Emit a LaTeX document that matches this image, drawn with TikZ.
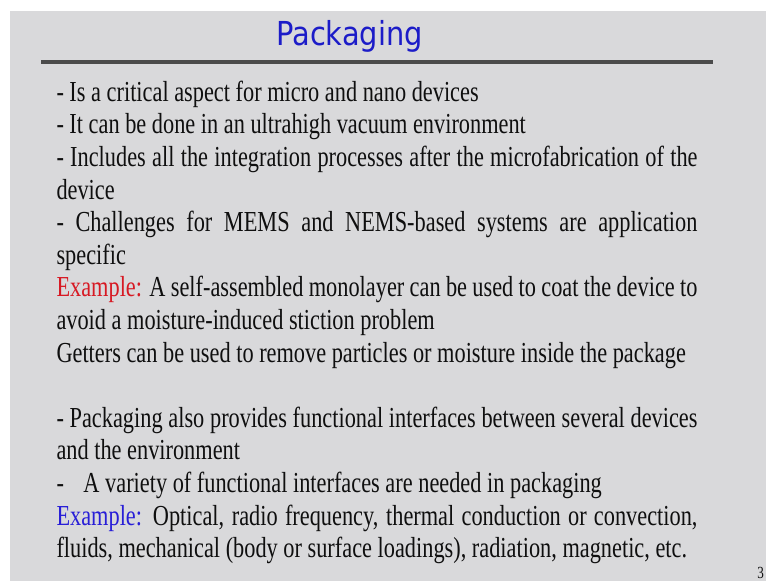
\documentclass[tikz,border=0pt]{standalone}
\usepackage{fontspec}
\setmainfont[FakeStretch=0.77]{Liberation Serif}
\newfontfamily\titlefont[FakeStretch=0.875]{DejaVu Sans}
\definecolor{slidebg}{RGB}{217,217,219}
\definecolor{titleblue}{RGB}{28,28,200}
\definecolor{exred}{RGB}{215,25,35}
\definecolor{exblue}{RGB}{40,30,215}
\definecolor{bodytext}{RGB}{15,15,15}
\definecolor{rulegray}{RGB}{75,75,75}
\tikzset{
  bodyline/.style={anchor=base west, inner sep=0pt, outer sep=0pt, text=bodytext,
    font=\fontsize{29}{32.6}\selectfont},
}
\newcommand{\jline}[1]{\makebox[641pt][s]{#1}}
\begin{document}
\begin{tikzpicture}[x=1pt,y=-1pt]
\useasboundingbox (0,0) rectangle (766,581);
\fill[white] (0,0) rectangle (766,581);
\fill[slidebg] (10,11) rectangle (766,581);
% title
\node[anchor=base, inner sep=0pt, text=titleblue, font=\titlefont\fontsize{33}{33}\selectfont] (title) at (349.5,45) {Packaging};
\coordinate (ruleL) at (41,62);
\coordinate (ruleR) at (713,62);
\draw[rulegray, line width=3.2pt] (ruleL) -- (ruleR);
% body
\node[bodyline] (l1) at (56.5,101.3) {- Is a critical aspect for micro and nano devices};
\node[bodyline] (l2) at (56.5,133.9) {- It can be done in an ultrahigh vacuum environment};
\node[bodyline] (l3) at (56.5,166.5) {\jline{- Includes all the integration processes after the microfabrication of the}};
\node[bodyline] (l4) at (56.5,199.1) {device};
\node[bodyline] (l5) at (56.5,231.7) {\jline{- Challenges for MEMS and NEMS-based systems are application}};
\node[bodyline] (l6) at (56.5,264.3) {specific};
\node[bodyline] (l7) at (56.5,296.9) {\jline{\textcolor{exred}{Example:} A self-assembled monolayer can be used to coat the device to}};
\node[bodyline] (l8) at (56.5,329.5) {avoid a moisture-induced stiction problem};
\node[bodyline] (l9) at (56.5,362.1) {Getters can be used to remove particles or moisture inside the package};
\node[bodyline] (l10) at (56.5,427.3) {\jline{- Packaging also provides functional interfaces between several devices}};
\node[bodyline] (l11) at (56.5,459.9) {and the environment};
\node[bodyline] (l12) at (56.5,492.5) {-\hspace{14pt} A variety of functional interfaces are needed in packaging};
\node[bodyline] (l13) at (56.5,525.1) {\jline{\textcolor{exblue}{Example:} Optical, radio frequency, thermal conduction or convection,}};
\node[bodyline] (l14) at (56.5,557.7) {fluids, mechanical (body or surface loadings), radiation, magnetic, etc.};
% page number
\node[anchor=base east, inner sep=0pt, text=bodytext, font=\fontsize{17}{17}\selectfont] (pnum) at (764,578) {3};
\end{tikzpicture}
\end{document}
